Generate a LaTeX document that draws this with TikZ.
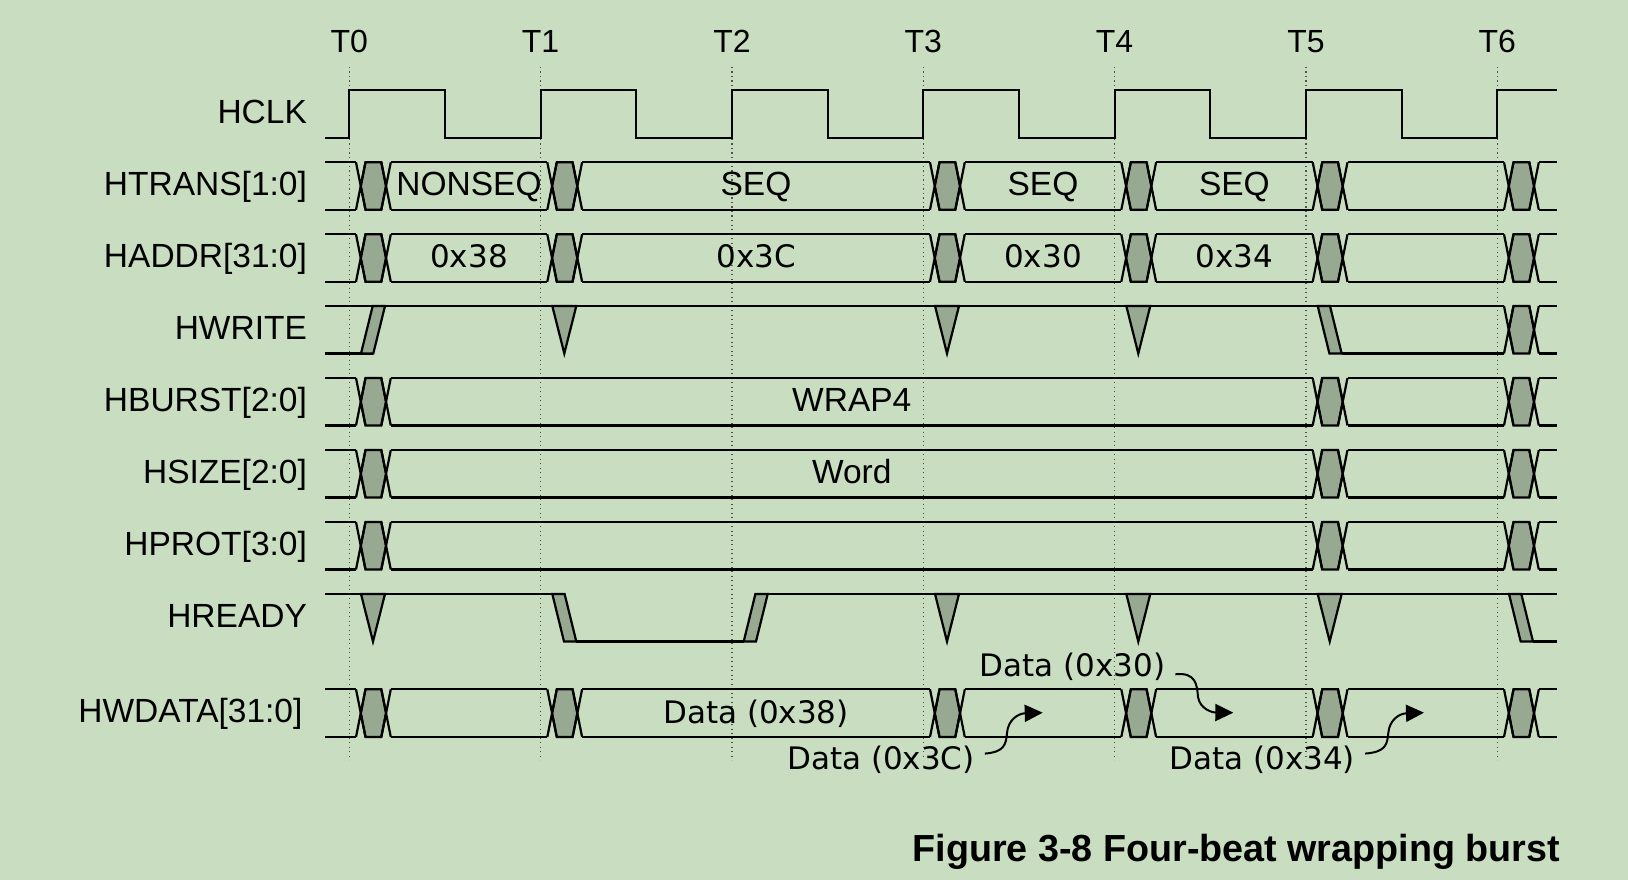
\documentclass[tikz,border=0pt]{standalone}
\usepackage{fontspec}
\setmainfont{Liberation Sans}
\newfontfamily\dvs{DejaVu Sans}
\usetikzlibrary{arrows.meta,calc}
\definecolor{bgc}{HTML}{C9DEC0}
\definecolor{hexc}{HTML}{98A992}
\definecolor{dotc}{HTML}{505050}
\tikzset{
  hexfill/.style={fill=hexc,draw=black},
  dotl/.style={draw=dotc,line width=1.3pt,dash pattern=on 1.3pt off 3.2pt},
  sname/.style={anchor=base east,inner sep=0pt,font=\fontsize{33.5}{38}\selectfont},
  tlab/.style={anchor=base,inner sep=0pt,font=\fontsize{32}{36}\selectfont},
  aval/.style={anchor=base,inner sep=0pt,font=\fontsize{33.5}{38}\selectfont},
  hval/.style={anchor=base,inner sep=0pt,font=\dvs\fontsize{31}{35}\selectfont},
  annot/.style={line width=2pt,-{Triangle[length=18pt,width=17pt]}},
}
% bus transition at time #1, top #2, bottom #3
\newcommand\BX[3]{%
  \pgfmathsetmacro\xa{#1+6.7}%
  \pgfmathsetmacro\xb{#1+16.2}%
  \pgfmathsetmacro\xc{#1+32}%
  \pgfmathsetmacro\xd{#1+41.5}%
  \pgfmathsetmacro\xm{#1+11.45}%
  \pgfmathsetmacro\xn{#1+36.75}%
  \pgfmathsetmacro\ym{(#2+#3)/2}%
  \filldraw[hexfill] (\xm,\ym) -- (\xb,#2) -- (\xc,#2) -- (\xn,\ym) -- (\xc,#3) -- (\xb,#3) -- cycle;
  \draw (\xa,#2) -- (\xb,#3) (\xa,#3) -- (\xb,#2) (\xc,#2) -- (\xd,#3) (\xc,#3) -- (\xd,#2);
}
% bus row: top #1, bottom #2, list of transition times #3
\newcommand\busrow[3]{%
  \xdef\lastd{325}%
  \foreach \t in {#3} {%
    \pgfmathsetmacro\xs{\t+6.7}%
    \draw (\lastd,#1) -- (\xs,#1) (\lastd,#2) -- (\xs,#2);
    \BX{\t}{#1}{#2}%
    \pgfmathsetmacro\xe{\t+41.5}%
    \xdef\lastd{\xe}%
  }%
  \draw (\lastd,#1) -- (1557,#1) (\lastd,#2) -- (1557,#2);
}
\newcommand\PR[3]{\filldraw[hexfill] ({#1+11.7},#3) -- ({#1+24},#3) -- ({#1+35.7},#2) -- ({#1+23.4},#2) -- cycle;}
\newcommand\PF[3]{\filldraw[hexfill] ({#1+11.7},#2) -- ({#1+24},#2) -- ({#1+35.7},#3) -- ({#1+23.4},#3) -- cycle;}
\newcommand\TRI[3]{\filldraw[hexfill] ({#1+11.7},#2) -- ({#1+35.7},#2) -- ({#1+23.7},#3) -- cycle;}
\begin{document}
\begin{tikzpicture}[x=1pt,y=-1pt,line width=2.2pt,line join=miter]
\fill[bgc] (0,0) rectangle (1628,880);
\useasboundingbox (0,0) rectangle (1628,880);
% time grid
\foreach \t/\n in {349.3/0,540.6/1,732/2,923.3/3,1114.6/4,1306/5,1497.3/6} {
  \draw[dotl] (\t,67) -- (\t,760);
  \node[tlab] (T\n) at (\t,52.3) {T\n};
}
% signal names
\node[sname] (nclk)   at (308,123.3) {HCLK};
\node[sname] (ntrans) at (308,195.3) {HTRANS[1:0]};
\node[sname] (naddr)  at (308,267.3) {HADDR[31:0]};
\node[sname] (nwrite) at (308,339.3) {HWRITE};
\node[sname] (nburst) at (308,411.3) {HBURST[2:0]};
\node[sname] (nsize)  at (308,483.3) {HSIZE[2:0]};
\node[sname] (nprot)  at (308,555.3) {HPROT[3:0]};
\node[sname] (nready) at (308,627.3) {HREADY};
\node[sname] (nwdata) at (303.5,722.5) {HWDATA[31:0]};
% HCLK
\draw (325,138) -- (349.3,138) -- (349.3,90) -- (445,90) -- (445,138) -- (540.6,138) -- (540.6,90) -- (636.3,90) -- (636.3,138) -- (732,138) -- (732,90) -- (827.6,90) -- (827.6,138) -- (923.3,138) -- (923.3,90) -- (1019,90) -- (1019,138) -- (1114.6,138) -- (1114.6,90) -- (1210.3,90) -- (1210.3,138) -- (1306,138) -- (1306,90) -- (1401.7,90) -- (1401.7,138) -- (1497.3,138) -- (1497.3,90) -- (1557,90);
% HTRANS
\busrow{162.3}{209.8}{349.3,540.6,923.3,1114.6,1306,1497.3}
\node[aval] (vt1) at (469,195.3) {NONSEQ};
\node[aval] (vt2) at (756,195.3) {SEQ};
\node[aval] (vt3) at (1043,195.3) {SEQ};
\node[aval] (vt4) at (1234.4,195.3) {SEQ};
% HADDR
\busrow{234.3}{281.8}{349.3,540.6,923.3,1114.6,1306,1497.3}
\node[hval] (va1) at (469,267.5) {0x38};
\node[hval] (va2) at (756,267.5) {0x3C};
\node[hval] (va3) at (1043,267.5) {0x30};
\node[hval] (va4) at (1234.4,267.5) {0x34};
% HWRITE
\draw (325,306) -- (1504,306);
\draw (325,353.5) -- (373.3,353.5);
\PR{349.3}{306}{353.5}
\TRI{540.6}{306}{353.5}
\TRI{923.3}{306}{353.5}
\TRI{1114.6}{306}{353.5}
\PF{1306}{306}{353.5}
\draw (1341.7,353.5) -- (1504,353.5);
\BX{1497.3}{306}{353.5}
\draw (1538.8,306) -- (1557,306) (1538.8,353.5) -- (1557,353.5);
% HBURST, HSIZE, HPROT
\busrow{378}{425.5}{349.3,1306,1497.3}
\node[aval] (vb) at (851.8,411.3) {WRAP4};
\busrow{450}{497.5}{349.3,1306,1497.3}
\node[aval] (vs) at (851.8,483.3) {Word};
\busrow{522}{569.5}{349.3,1306,1497.3}
% HREADY
\draw (325,594) -- (564.6,594);
\draw (576.3,641.5) -- (743.7,641.5);
\draw (755.4,594) -- (1557,594);
\draw (1533,641.5) -- (1557,641.5);
\TRI{349.3}{594}{641.5}
\PF{540.6}{594}{641.5}
\PR{732}{594}{641.5}
\TRI{923.3}{594}{641.5}
\TRI{1114.6}{594}{641.5}
\TRI{1306}{594}{641.5}
\PF{1497.3}{594}{641.5}
% HWDATA
\busrow{689.3}{737}{349.3,540.6,923.3,1114.6,1306,1497.3}
\node[hval] (vd1) at (756,723.3) {Data (0x38)};
\node[hval] (d30) at (1072.5,676) {Data (0x30)};
\node[hval] (d3C) at (881,769.3) {Data (0x3C)};
\node[hval] (d34) at (1262.3,769.3) {Data (0x34)};
\coordinate (tip30) at (1233.3,712.7);
\coordinate (tip3C) at (1042.7,712.7);
\coordinate (tip34) at (1424,712.7);
\draw[annot] ($(d30.east)+(9,8)$) .. controls (1196,672) and (1197,685) .. (1198,697) .. controls (1200,709) and (1212,712.5) .. (tip30);
\draw[annot] ($(d3C.east)+(9,-6)$) .. controls (1004,752) and (1006,745) .. (1007,733) .. controls (1008,720) and (1018,713.5) .. (tip3C);
\draw[annot] ($(d34.east)+(9,-6)$) .. controls (1385.3,752) and (1387.3,745) .. (1388.3,733) .. controls (1389.3,720) and (1399.3,713.5) .. (tip34);
% caption
\node[anchor=base east,inner sep=0pt,font=\bfseries\fontsize{37.7}{42}\selectfont] (cap) at (1561,861.7) {Figure 3-8 Four-beat wrapping burst};
\end{tikzpicture}
\end{document}
